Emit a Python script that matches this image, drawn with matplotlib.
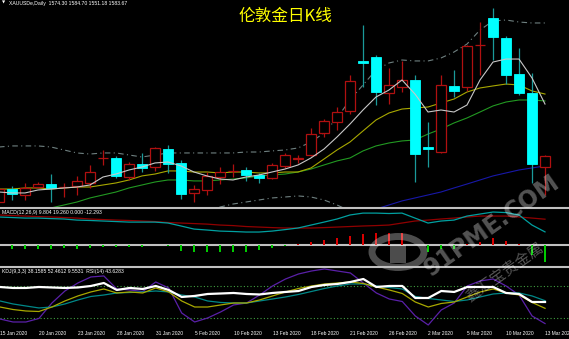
import numpy as np
import matplotlib.pyplot as plt
from matplotlib.patches import Rectangle, Circle
from matplotlib.lines import Line2D

# daily bars, 15 Jan 2020 .. 13 Mar 2020
opens = [1545.3, 1556.2, 1551.2, 1557.9, 1560.4, 1557.5, 1558.8, 1561.3, 1581.9, 1582.3,
         1566.3, 1577.2, 1574.7, 1589.8, 1578.1, 1552.9, 1555.4, 1566.3, 1571.0, 1572.2,
         1568.0, 1565.5, 1575.6, 1581.4, 1584.8, 1603.3, 1612.5, 1621.8, 1663.8, 1667.1,
         1636.9, 1641.9, 1647.8, 1591.5, 1587.3, 1642.8, 1641.9, 1676.8, 1699.9, 1683.1,
         1652.8, 1636.9, 1574.3]
highs = [1558.8, 1558.8, 1561.3, 1562.1, 1568.8, 1561.3, 1567.2, 1576.4, 1589.0, 1584.0,
         1578.9, 1586.5, 1591.5, 1593.2, 1580.6, 1559.6, 1570.5, 1574.7, 1577.2, 1574.7,
         1569.7, 1578.1, 1586.5, 1584.8, 1607.5, 1615.0, 1625.1, 1652.0, 1694.0, 1668.8,
         1657.9, 1663.8, 1652.0, 1612.5, 1652.0, 1656.2, 1677.2, 1696.5, 1708.3, 1684.8,
         1674.7, 1653.7, 1584.7]
lows = [1543.6, 1547.0, 1547.0, 1557.1, 1545.3, 1549.5, 1551.2, 1557.1, 1576.4, 1565.5,
        1563.8, 1570.5, 1571.4, 1569.7, 1547.8, 1545.3, 1551.2, 1560.4, 1566.3, 1563.0,
        1561.3, 1564.6, 1573.9, 1578.1, 1584.0, 1599.9, 1605.8, 1619.2, 1641.9, 1626.8,
        1627.6, 1637.7, 1562.1, 1574.7, 1586.5, 1633.5, 1638.6, 1652.0, 1664.6, 1644.4,
        1635.2, 1561.3, 1551.2]
closes = [1556.2, 1552.0, 1557.1, 1560.4, 1557.1, 1557.9, 1563.0, 1570.5, 1582.3, 1567.2,
          1577.2, 1573.9, 1590.7, 1577.2, 1552.0, 1556.2, 1567.2, 1570.5, 1571.4, 1568.0,
          1565.5, 1576.4, 1584.8, 1581.9, 1602.4, 1613.4, 1620.9, 1647.0, 1662.1, 1637.7,
          1643.6, 1647.8, 1585.6, 1589.8, 1643.6, 1638.6, 1676.4, 1677.2, 1683.9, 1652.0,
          1636.9, 1577.2, 1583.7]

nan = np.nan
ma5 = [1553.7, 1552.9, 1552.9, 1555.4, 1556.2, 1557.1, 1557.9, 1559.6, 1566.3, 1568.8,
       1572.2, 1574.7, 1578.1, 1578.9, 1575.6, 1570.5, 1567.2, 1564.6, 1563.8, 1566.3,
       1568.0, 1570.5, 1573.0, 1576.4, 1582.3, 1589.8, 1599.9, 1610.8, 1622.6, 1633.5,
       1639.4, 1647.8, 1636.0, 1620.9, 1622.6, 1620.9, 1626.8, 1647.8, 1662.9, 1665.4,
       1665.4, 1649.5, 1627.6]
ma10 = [1556.2, 1556.2, 1557.1, 1557.1, 1556.2, 1557.1, 1557.9, 1557.9, 1559.6, 1561.3,
        1563.8, 1567.2, 1568.8, 1571.4, 1571.4, 1570.5, 1570.5, 1569.7, 1570.5, 1570.5,
        1569.7, 1569.7, 1570.5, 1570.5, 1573.9, 1581.4, 1589.0, 1595.7, 1605.0, 1614.2,
        1620.1, 1623.4, 1624.3, 1625.1, 1628.5, 1631.8, 1637.7, 1641.1, 1642.8, 1644.4,
        1643.6, 1638.6, 1636.0]
ma20 = [nan, nan, nan, nan, 1540.3, 1542.8, 1545.3, 1548.7, 1551.2, 1553.7,
        1557.1, 1559.6, 1562.1, 1563.8, 1563.8, 1563.0, 1563.0, 1563.8, 1564.6, 1565.5,
        1567.2, 1568.0, 1568.8, 1570.5, 1573.0, 1576.4, 1579.8, 1582.3, 1588.2, 1592.4,
        1594.9, 1596.6, 1597.4, 1602.4, 1606.6, 1611.7, 1615.9, 1620.9, 1626.0, 1629.3,
        1631.0, 1631.0, 1630.2]
ma60 = [nan] * 29 + [1539.4, 1542.8, 1546.2, 1548.7, 1551.2, 1553.7, 1557.1, 1560.4,
                     1563.8, 1567.2, 1569.7, 1572.2, 1573.9, 1575.6]
bb_up = [1591.5, 1592.4, 1592.4, 1592.4, 1591.5, 1589.0, 1586.5, 1585.6, 1586.5, 1586.5,
         1584.8, 1583.1, 1584.8, 1586.5, 1586.5, 1586.5, 1586.5, 1586.5, 1586.5, 1587.3,
         1587.3, 1588.2, 1589.0, 1590.7, 1595.7, 1603.3, 1615.9, 1631.0, 1643.6, 1656.2,
         1662.1, 1664.6, 1663.8, 1663.8, 1666.3, 1671.3, 1678.0, 1689.8, 1697.4, 1698.2,
         1696.5, 1695.7, 1695.7]
bb_low = [nan] * 16 + [1536.9, 1541.1, 1543.6, 1545.3, 1547.0, 1548.7, 1549.5, 1550.4,
                       1549.5, 1547.0, 1542.8, 1537.8] + [nan] * 15

macd_main = [20.9, 20.5, 20.1, 20.1, 19.7, 19.4, 18.6, 18.3, 17.9, 17.5,
             17.1, 17.1, 17.1, 16.4, 14.2, 11.9, 11.2, 10.4, 10.1, 9.7,
             9.7, 10.4, 11.5, 12.7, 14.9, 17.1, 19.4, 22.4, 23.8, 23.8,
             23.5, 23.8, 20.1, 16.4, 17.9, 18.6, 21.6, 23.1, 24.6, 24.2,
             22.4, 14.9, 9.804]
macd_signal = [22.4, 22.0, 21.6, 21.2, 20.9, 20.5, 20.1, 19.4, 19.0, 18.6,
               18.3, 17.9, 17.5, 16.8, 16.4, 16.0, 15.6, 14.9, 14.5, 13.8,
               13.4, 13.0, 12.7, 12.7, 12.7, 13.0, 13.4, 13.8, 14.2, 14.5,
               14.9, 16.4, 17.9, 18.6, 19.4, 20.1, 20.9, 21.6, 21.6, 21.6,
               20.9, 20.1, 19.26]
macd_hist = [-3.0, -3.0, -3.0, -3.0, -3.0, -2.2, -3.0, -2.2, -1.5, -1.5,
             -1.5, -1.5, -0.3, -0.7, -4.5, -5.2, -5.2, -5.2, -5.2, -5.2,
             -3.7, -2.2, -0.7, 0.7, 2.2, 3.7, 5.2, 6.7, 8.2, 8.9,
             8.9, 8.9, 0.0, -5.2, -3.0, -3.0, 0.7, 2.2, 5.2, 3.0,
             0.7, -7.5, -12.293]

kdj_k = [40.6, 35.9, 33.1, 32.2, 40.6, 51.9, 61.3, 68.8, 74.4, 66.9,
         68.8, 66.9, 76.3, 68.8, 51.9, 40.6, 40.6, 44.4, 48.1, 48.1,
         53.8, 61.3, 68.8, 75.3, 80.0, 83.8, 85.6, 87.5, 84.7, 78.1,
         72.5, 65.9, 50.0, 40.6, 47.2, 50.0, 59.4, 68.8, 74.4, 66.9,
         63.1, 49.1, 38.16]
kdj_d = [51.9, 46.3, 42.5, 38.8, 40.6, 46.3, 53.8, 60.3, 63.1, 66.9,
         67.8, 68.8, 70.6, 68.8, 63.1, 59.4, 51.9, 49.1, 48.1, 48.1,
         51.9, 55.6, 59.4, 64.1, 69.7, 75.3, 80.0, 83.8, 83.8, 80.0,
         77.2, 74.4, 60.3, 56.6, 53.8, 50.9, 53.8, 59.4, 65.0, 66.9,
         66.9, 61.3, 52.46]
kdj_j = [18.1, 12.5, 12.5, 19.1, 48.1, 70.6, 85.6, 96.9, 98.8, 74.4,
         72.5, 69.7, 87.5, 76.3, 29.4, 12.5, 20.0, 31.3, 44.4, 48.1,
         63.1, 80.0, 93.1, 102.5, 108.1, 111.9, 108.1, 104.4, 85.6, 66.9,
         55.6, 50.9, 23.8, 6.9, 35.0, 48.1, 80.0, 89.4, 93.1, 80.0,
         63.1, 23.8, 9.55]
rsi = [78.1, 76.3, 76.3, 78.1, 77.2, 76.3, 77.2, 80.0, 85.6, 72.5,
       76.3, 74.4, 80.0, 72.5, 59.4, 61.3, 65.0, 65.9, 66.9, 65.0,
       64.1, 66.9, 68.8, 70.6, 78.1, 81.9, 83.8, 87.5, 93.1, 78.1,
       80.0, 80.0, 57.5, 57.5, 70.6, 68.8, 78.1, 78.1, 78.1, 66.9,
       65.0, 50.0, 50.0]

tick_idx = list(range(0, 43, 3))
tick_labels = ['15 Jan 2020', '20 Jan 2020', '23 Jan 2020', '28 Jan 2020', '31 Jan 2020',
               '5 Feb 2020', '10 Feb 2020', '13 Feb 2020', '18 Feb 2020', '21 Feb 2020',
               '26 Feb 2020', '2 Mar 2020', '5 Mar 2020', '10 Mar 2020', '13 Mar 2020']

W, H = 569, 339
fig = plt.figure(figsize=(W / 100, H / 100), dpi=100, facecolor='black')


def box(top, bottom):
    return [0, 1 - bottom / H, 1, (bottom - top) / H]


ax1 = fig.add_axes(box(0, 207))
ax2 = fig.add_axes(box(208, 266))
ax3 = fig.add_axes(box(267, 327))
x = np.arange(len(closes))
for ax in (ax1, ax2, ax3):
    ax.set_facecolor('black')
    ax.set_xlim(1 / 13, 570 / 13)
    for s in ax.spines.values():
        s.set_visible(False)
    ax.set_yticks([])
    ax.set_xticks([])

# main chart
ax1.set_ylim(1541.1, 1715.0)
up_col, dn_col, dn_wick = '#b01010', '#00ffff', '#1a9a9a'
w = 0.74
for i in x:
    o, h, l, c = opens[i], highs[i], lows[i], closes[i]
    if c >= o:
        ax1.vlines(i, l, h, color=up_col, lw=0.9, zorder=2)
        ax1.add_patch(Rectangle((i - w / 2, o), w, c - o, facecolor='black',
                                edgecolor=up_col, lw=0.9, zorder=3))
    else:
        ax1.vlines(i, l, h, color=dn_wick, lw=0.9, zorder=2)
        ax1.add_patch(Rectangle((i - w / 2, c), w, o - c, facecolor=dn_col,
                                edgecolor=dn_col, lw=0.6, zorder=3))

ax1.plot(x, bb_up, color='#6f8080', lw=0.8, ls=(0, (5, 3, 1, 3)), zorder=1)
ax1.plot(x, bb_low, color='#6f8080', lw=0.8, ls=(0, (5, 3, 1, 3)), zorder=1)
ax1.plot(x, ma60, color='#1818a8', lw=0.8, zorder=1)
ax1.plot(x, ma20, color='#229922', lw=0.8, zorder=1)
ax1.plot(x, ma10, color='#a8a800', lw=0.8, zorder=1)
ax1.plot(x, ma5, color='#c8c8c8', lw=0.8, zorder=4)

fig.text(285 / W, 1 - 16 / H, '伦敦金日K线', color='#ffff00', fontsize=12,
         family=['Noto Sans CJK SC', 'DejaVu Sans'], ha='center', va='center')
fig.text(2 / W, 1 - 3 / H, '\u25bc', color='white', fontsize=3, va='center')
fig.text(9 / W, 1 - 3 / H, 'XAUUSDe,Daily  1574.30 1584.70 1551.18 1583.67',
         color='white', fontsize=3.7, family='Liberation Sans', va='center')

# MACD
ax2.set_ylim(-15.6, 27.6)
ax2.axhline(0, color='#c0c0c0', lw=1.5)
hist = np.array(macd_hist)
ax2.vlines(x[hist > 0], 0, hist[hist > 0], color='#e00000', lw=1.4)
ax2.vlines(x[hist < 0], 0, hist[hist < 0], color='#00d000', lw=1.4)
ax2.plot(x, macd_signal, color='#900000', lw=0.9)
ax2.plot(x, macd_main, color='#00a0a0', lw=0.9)
ax2.text(0.004, 0.93, 'MACD(12,26,9) 9.804 19.260 0.000 -12.293', transform=ax2.transAxes,
         color='white', fontsize=3.7, family='Liberation Sans', va='center')

# KDJ + RSI
ax3.set_ylim(3.1, 115.6)
ax3.axhline(80, color='#40a040', lw=0.8, ls=(0, (1, 2)))
ax3.axhline(20, color='#40a040', lw=0.8, ls=(0, (1, 2)))
ax3.plot(x, kdj_j, color='#5a20a8', lw=0.9)
ax3.plot(x, kdj_d, color='#008888', lw=0.9)
ax3.plot(x, kdj_k, color='#a8a800', lw=0.9)
ax3.plot(x, rsi, color='white', lw=1.6)
ax3.text(0.004, 0.93, 'KDJ(9,3,3) 38.1585 52.4612 9.5531  RSI(14) 43.6283',
         transform=ax3.transAxes, color='white', fontsize=3.7, family='Liberation Sans',
         va='center')
ax3.set_xticks(tick_idx)
ax3.set_xticklabels(tick_labels, ha='left', color='white', fontsize=3.5,
                    family='Liberation Sans')
ax3.tick_params(axis='x', length=0, pad=3)

# window separators
for ypx in (207.5, 266.5):
    fig.add_artist(Line2D([0, 1], [1 - ypx / H] * 2, color='#c0c0c0', lw=1.5,
                          transform=fig.transFigure))

# watermark
wm = dict(color='white', alpha=0.33, ha='center', va='center', rotation=35)
fig.text(492 / W, 1 - 226 / H, '91PME.COM', fontsize=17, fontweight='bold', **wm)
fig.text(505 / W, 1 - 272 / H, '鑫汇宝贵金属', fontsize=11,
         family=['Noto Sans CJK SC', 'DejaVu Sans'], **wm)
fig.add_artist(Circle((398 / W, 1 - 252 / H), 26 / W, transform=fig.transFigure,
                      fill=False, ec='white', lw=5, alpha=0.3))
fig.add_artist(Rectangle((390 / W, 1 - 263 / H), 16 / W, 18 / H, transform=fig.transFigure,
                         fc='white', alpha=0.3, lw=0))

fig.savefig('out.png', dpi=100, facecolor='black')
